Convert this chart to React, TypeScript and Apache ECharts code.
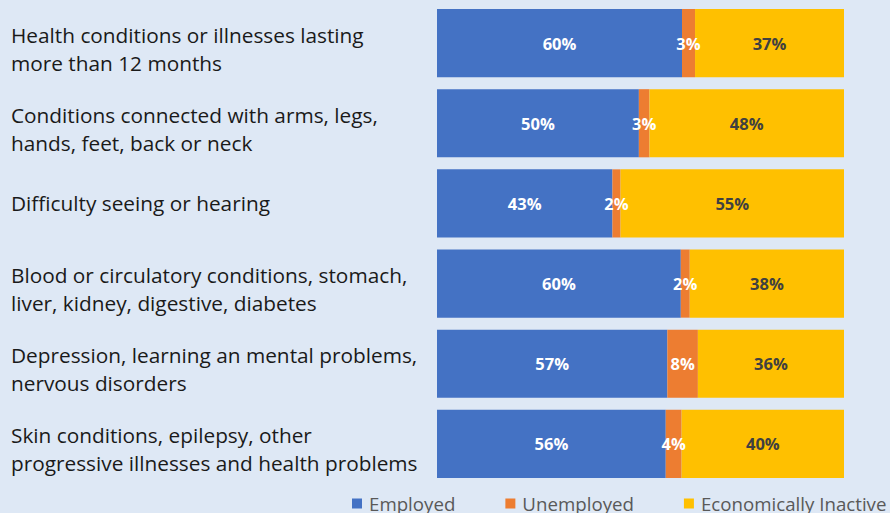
import React, { useEffect, useRef } from "react";
import * as echarts from "echarts";

const categories = [
  "Health conditions or illnesses lasting\nmore than 12 months",
  "Conditions connected with arms, legs,\nhands, feet, back or neck",
  "Difficulty seeing or hearing",
  "Blood or circulatory conditions, stomach,\nliver, kidney, digestive, diabetes",
  "Depression, learning an mental problems,\nnervous disorders",
  "Skin conditions, epilepsy, other\nprogressive illnesses and health problems",
];
const employed = [60.2, 49.6, 43.1, 59.9, 56.6, 56.2];
const unemployed = [3.2, 2.6, 2.0, 2.2, 7.5, 3.9];
const inactive = [36.6, 47.8, 54.9, 37.9, 35.9, 39.9];
const seriesNames = ["Employed", "Unemployed", "Economically Inactive"];
const colors = ["#4472C4", "#ED7D31", "#FFC000"];
const labelColors = ["#ffffff", "#ffffff", "#404040"];

export default function App() {
  const ref = useRef<HTMLDivElement>(null);
  useEffect(() => {
    document.body.style.margin = "0";
    const chart = echarts.init(ref.current!, null, { renderer: "svg" });
    const values = [employed, unemployed, inactive];
    chart.setOption({
      animation: false,
      backgroundColor: "#dee8f5",
      grid: { left: 437, right: 46, top: 3, bottom: 29 },
      xAxis: {
        type: "value",
        min: 0,
        max: 100,
        show: false,
      },
      yAxis: {
        type: "category",
        data: categories,
        inverse: true,
        axisLine: { show: false },
        axisTick: { show: false },
        axisLabel: {
          align: "left",
          margin: 426,
          fontFamily: "Open Sans",
          fontSize: 20.8,
          lineHeight: 28,
          color: "#1a1a1a",
          formatter: (v: string) => {
            const lines = v.split("\n");
            if (lines.length === 1) return "{a|" + v + "}";
            return "{s| }\n" + lines.map((l) => "{a|" + l + "}").join("\n");
          },
          rich: {
            a: { fontFamily: "Open Sans", fontSize: 20.8, lineHeight: 28, color: "#1a1a1a" },
            s: { fontSize: 1, lineHeight: 11 },
          },
        },
      },
      legend: {
        left: 352,
        top: 494,
        padding: 0,
        width: 800,
        itemWidth: 10,
        itemHeight: 10,
        itemGap: 50,
        icon: "rect",
        textStyle: { fontFamily: "Open Sans", fontSize: 18.7, color: "#595959", padding: [0, 0, 0, 2] },
        data: seriesNames,
      },
      series: seriesNames.map((name, i) => ({
        name,
        type: "bar",
        stack: "total",
        barCategoryGap: "15%",
        data: values[i],
        itemStyle: { color: colors[i] },
        label: {
          show: true,
          position: "inside",
          color: labelColors[i],
          fontFamily: "Open Sans",
          fontWeight: "bold",
          fontSize: 16.5,
          formatter: (p: any) => Math.round(p.value) + "%",
        },
      })),
    });
    return () => chart.dispose();
  }, []);
  return <div ref={ref} style={{ position: "fixed", left: 0, top: 0, width: 890, height: 513 }} />;
}
